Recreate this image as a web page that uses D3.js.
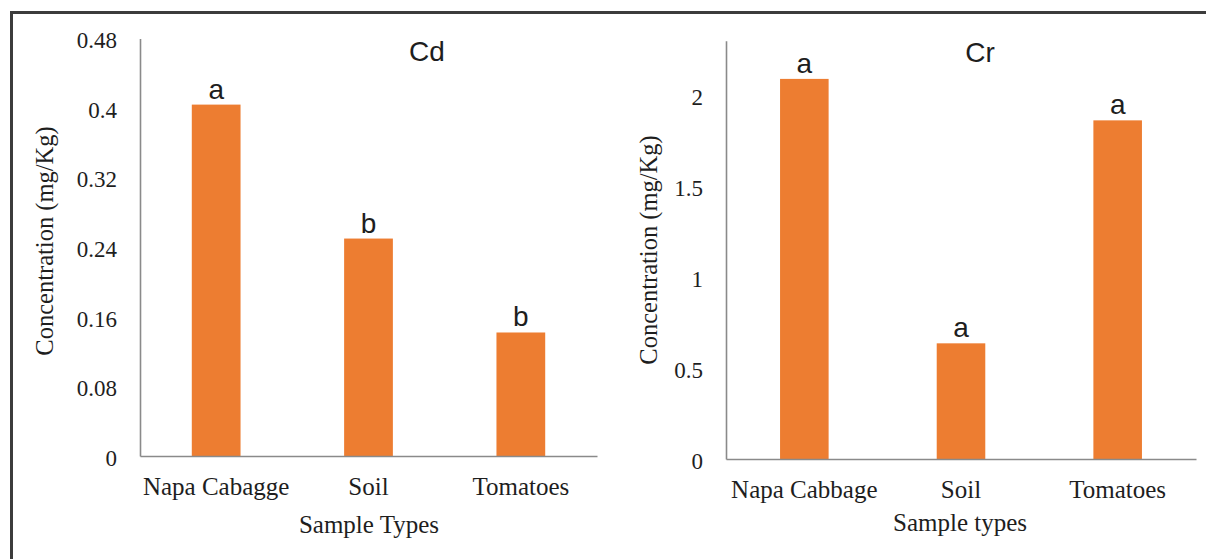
<!DOCTYPE html>
<html>
<head>
<meta charset="utf-8">
<script src="https://cdn.jsdelivr.net/npm/d3@7"></script>
<style>
  html, body { margin: 0; padding: 0; background: #fff; }
  svg { display: block; }
</style>
</head>
<body>
<svg id="chart" width="1206" height="559"></svg>
<script>
// ---- data ----
const categoriesCd = ["Napa Cabagge", "Soil", "Tomatoes"];
const valuesCd = [0.404, 0.250, 0.142];
const lettersCd = ["a", "b", "b"];
const ticksCd = [0, 0.08, 0.16, 0.24, 0.32, 0.4, 0.48];

const categoriesCr = ["Napa Cabbage", "Soil", "Tomatoes"];
const valuesCr = [2.09, 0.636, 1.862];
const lettersCr = ["a", "a", "a"];
const ticksCr = [0, 0.5, 1, 1.5, 2];

const titles = ["Cd", "Cr"];
const xTitles = ["Sample Types", "Sample types"];
const yTitle = "Concentration (mg/Kg)";

// ---- drawing ----
const svg = d3.select("#chart");
svg.append("rect").attr("width", 1206).attr("height", 559).attr("fill", "#fff");

// outer frame (top and left edges visible)
svg.append("path")
  .attr("d", "M11.5,560 L11.5,12.5 L1207,12.5")
  .attr("fill", "none").attr("stroke", "#3c3c3c").attr("stroke-width", 3);

const SERIF = "'Liberation Serif', 'Times New Roman', serif";
const SANS = "'Liberation Sans', Arial, sans-serif";
const BAR = "#ED7D31";
const AXIS = "#8a8a8a";
const TEXT = "#1e1e1e";

const panels = [
  { cats: categoriesCd, vals: valuesCd, letters: lettersCd, ticks: ticksCd, max: 0.48,
    x0: 140, x1: 597, yTop: 38.5, yBase: 456, pad: 0.68,
    title: titles[0], titleX: 427, titleY: 61,
    xTitle: xTitles[0], xTitleX: 369, xTitleY: 533,
    yTitleX: 44, yTitleY: 241 },
  { cats: categoriesCr, vals: valuesCr, letters: lettersCr, ticks: ticksCr, max: 2.3,
    x0: 726, x1: 1196, yTop: 40.7, yBase: 459, pad: 0.69,
    title: titles[1], titleX: 980, titleY: 62,
    xTitle: xTitles[1], xTitleX: 960, xTitleY: 531,
    yTitleX: 648, yTitleY: 250 }
];

panels.forEach(p => {
  const g = svg.append("g");
  const x = d3.scaleBand().domain(p.cats).range([p.x0, p.x1])
    .paddingInner(p.pad).paddingOuter(p.pad / 2);
  const y = d3.scaleLinear().domain([0, p.max]).range([p.yBase, p.yTop]);

  // bars
  g.selectAll("rect.bar").data(p.vals).join("rect")
    .attr("class", "bar")
    .attr("x", (d, i) => x(p.cats[i]))
    .attr("width", x.bandwidth())
    .attr("y", d => y(d))
    .attr("height", d => y(0) - y(d))
    .attr("fill", BAR);

  // significance letters
  g.selectAll("text.letter").data(p.vals).join("text")
    .attr("class", "letter")
    .attr("x", (d, i) => x(p.cats[i]) + x.bandwidth() / 2)
    .attr("y", d => y(d) - 6)
    .attr("text-anchor", "middle")
    .attr("font-family", SANS).attr("font-size", 28).attr("fill", TEXT)
    .text((d, i) => p.letters[i]);

  // y axis
  const ya = g.append("g").attr("transform", `translate(${p.x0},0)`)
    .call(d3.axisLeft(y).tickValues(p.ticks).tickSize(0).tickPadding(23)
      .tickFormat(d => String(d)));
  ya.select(".domain").attr("stroke", AXIS).attr("stroke-width", 1.6);
  ya.selectAll("text").attr("font-family", SERIF).attr("font-size", 23).attr("fill", TEXT)
    .attr("dy", "0.4em");

  // x axis
  const xa = g.append("g").attr("transform", `translate(0,${p.yBase})`)
    .call(d3.axisBottom(x).tickSize(0).tickPadding(21));
  xa.select(".domain").attr("stroke", AXIS).attr("stroke-width", 1.6);
  xa.selectAll("text").attr("font-family", SERIF).attr("font-size", 25).attr("fill", TEXT);

  // chart title
  g.append("text").attr("x", p.titleX).attr("y", p.titleY)
    .attr("text-anchor", "middle")
    .attr("font-family", SANS).attr("font-size", 28).attr("fill", TEXT)
    .text(p.title);

  // x axis title
  g.append("text").attr("x", p.xTitleX).attr("y", p.xTitleY)
    .attr("text-anchor", "middle")
    .attr("font-family", SERIF).attr("font-size", 25).attr("fill", TEXT)
    .text(p.xTitle);

  // y axis title
  g.append("text")
    .attr("transform", `translate(${p.yTitleX},${p.yTitleY}) rotate(-90)`)
    .attr("text-anchor", "middle").attr("dominant-baseline", "central")
    .attr("font-family", SERIF).attr("font-size", 24.5).attr("fill", TEXT)
    .text(yTitle);
});
</script>
</body>
</html>
